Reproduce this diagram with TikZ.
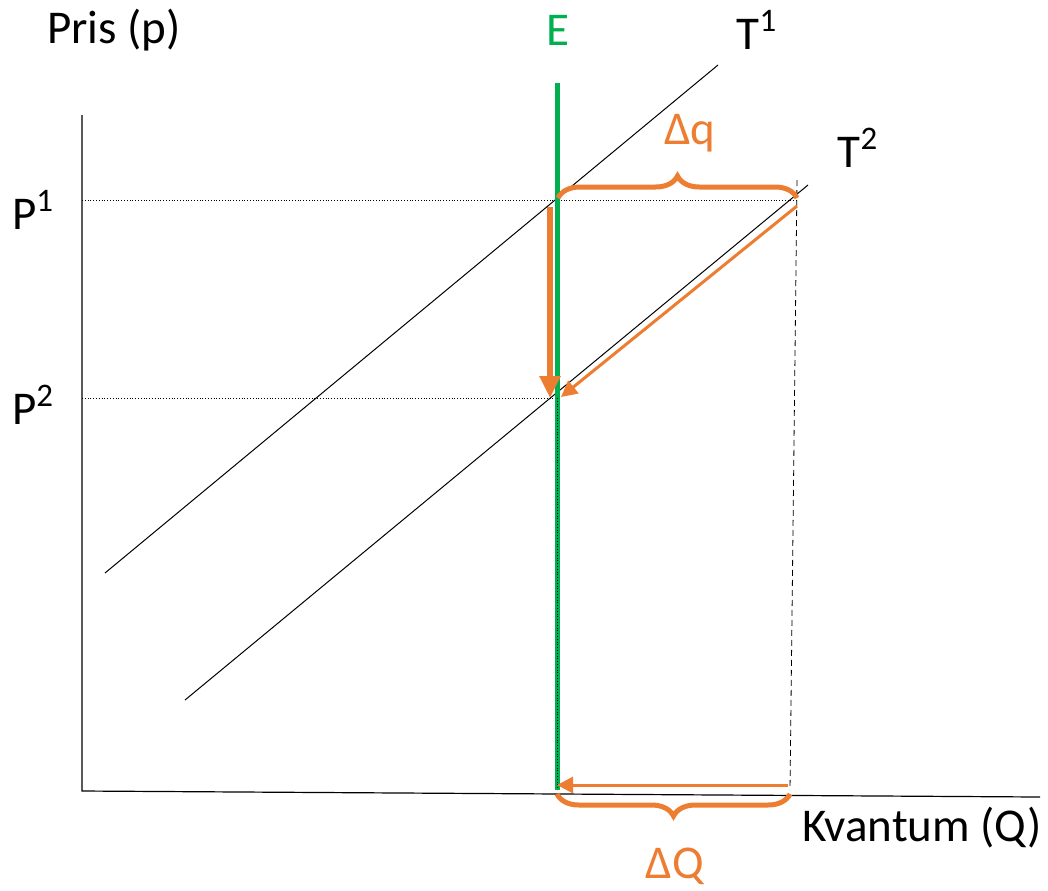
\documentclass[tikz,border=0pt]{standalone}
\usepackage{fontspec}
\setmainfont{Carlito}
\usetikzlibrary{arrows.meta, decorations.pathreplacing}
\definecolor{oransje}{HTML}{ED7D31}
\definecolor{groenn}{HTML}{00B050}

\begin{document}
\begin{tikzpicture}[x=0.5pt, y=-0.5pt,
    every node/.style={font=\fontsize{23.5}{27}\selectfont, inner sep=0pt},
    axis/.style={line width=0.6pt},
    curve/.style={line width=0.5pt},
    guide/.style={line width=0.4pt, densely dotted},
    shiftthick/.style={draw=oransje, line width=3pt, -{Triangle[length=11pt, width=10pt]}},
    shiftthin/.style={draw=oransje, line width=1.5pt, -{Triangle[length=8pt, width=8pt]}},
    bracket/.style={draw=oransje, line width=2.5pt, decorate, decoration={brace, amplitude=11pt}}
]
\useasboundingbox (0,0) rectangle (1048,890);

% points
\coordinate (origo) at (82,791);
\coordinate (ytop) at (82,115);
\coordinate (xend) at (1040,797);
\coordinate (e1) at (557,200);
\coordinate (e2) at (557,398);
\coordinate (f1) at (797,200);
\coordinate (ebot) at (557,790);
\coordinate (fbot) at (790,790);

% axes
\draw[axis] (ytop) -- (origo) -- (xend);
\node (pris) at (114,30) {Pris (p)};
\node (kvantum) at (922,828) {Kvantum (Q)};

% price guides
\draw[guide] (origo |- e1) -- (f1);
\draw[guide] (origo |- e2) -- (e2);
\draw[line width=0.4pt, densely dashed] (797,180) -- (fbot);
\node (pEn) at (33,210) {P\textsuperscript{1}};
\node (pTo) at (33,405) {P\textsuperscript{2}};

% supply curves
\draw[curve] (105,573) -- (718,65);
\draw[curve] (185,700) -- (808,185);
\node (tEn) at (757,30) {T\textsuperscript{1}};
\node (tTo) at (858,148) {T\textsuperscript{2}};

% quota E
\draw[groenn, line width=2.5pt] (557,83) -- (ebot);
\draw[guide] (e2) -- (ebot);
\node[text=groenn] (lovE) at (558,30) {E};

% shifts
\draw[shiftthick] (550,207) -- (550,398);
\draw[shiftthin] (797,206) -- (561,397);
\draw[shiftthin] (788,785) -- (557,785);

% braces
\draw[bracket] (558,198) -- (797,198);
\draw[bracket] (fbot) ++(0,4) -- (557,794);
\node[text=oransje] (dq) at (690,133) {Δq};
\node[text=oransje] (dQ) at (675,866) {ΔQ};

\end{tikzpicture}
\end{document}
